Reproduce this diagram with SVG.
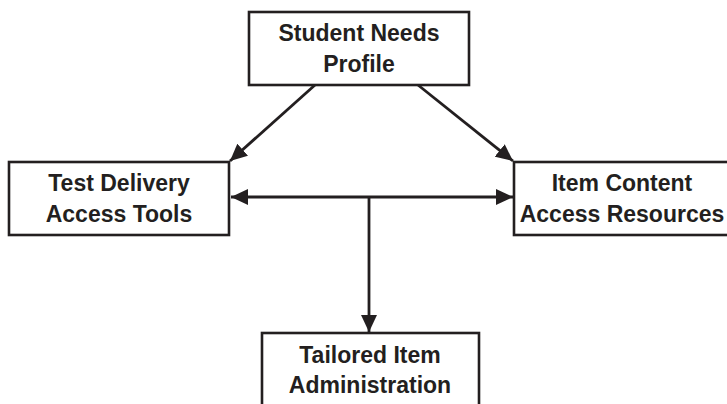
<svg xmlns="http://www.w3.org/2000/svg" width="727" height="404" viewBox="0 0 727 404">
<style>
.box{fill:#fff;stroke:#231f20;stroke-width:2.6}
.lbl{font-family:"Liberation Sans",Arial,sans-serif;font-weight:bold;font-size:23px;fill:#231f20;text-anchor:middle}
.edge{fill:none;stroke:#231f20;stroke-width:2.8}
</style>
<defs>
<marker id="ah" markerUnits="userSpaceOnUse" markerWidth="19" markerHeight="16" refX="17" refY="8" orient="auto-start-reverse">
<path d="M0,0 L17,8 L0,16 Z" fill="#231f20"/>
</marker>
</defs>
<g id="edges">
<line class="edge" x1="315" y1="85" x2="230" y2="161" marker-end="url(#ah)"/>
<line class="edge" x1="418" y1="85" x2="513" y2="161" marker-end="url(#ah)"/>
<line class="edge" x1="231" y1="197" x2="513" y2="197" marker-start="url(#ah)" marker-end="url(#ah)"/>
<line class="edge" x1="369" y1="197" x2="369" y2="332" marker-end="url(#ah)"/>
</g>
<g id="n1">
<rect class="box" x="249" y="12" width="220" height="73"/>
<text class="lbl" x="359" y="41">Student Needs</text>
<text class="lbl" x="359" y="72">Profile</text>
</g>
<g id="n2">
<rect class="box" x="9" y="162" width="220" height="73"/>
<text class="lbl" x="119" y="191">Test Delivery</text>
<text class="lbl" x="119" y="222">Access Tools</text>
</g>
<g id="n3">
<rect class="box" x="514" y="162" width="220" height="73"/>
<text class="lbl" x="622" y="191">Item Content</text>
<text class="lbl" x="622" y="222">Access Resources</text>
</g>
<g id="n4">
<rect class="box" x="262" y="333" width="217" height="80"/>
<text class="lbl" x="370" y="363">Tailored Item</text>
<text class="lbl" x="370" y="393">Administration</text>
</g>
</svg>
